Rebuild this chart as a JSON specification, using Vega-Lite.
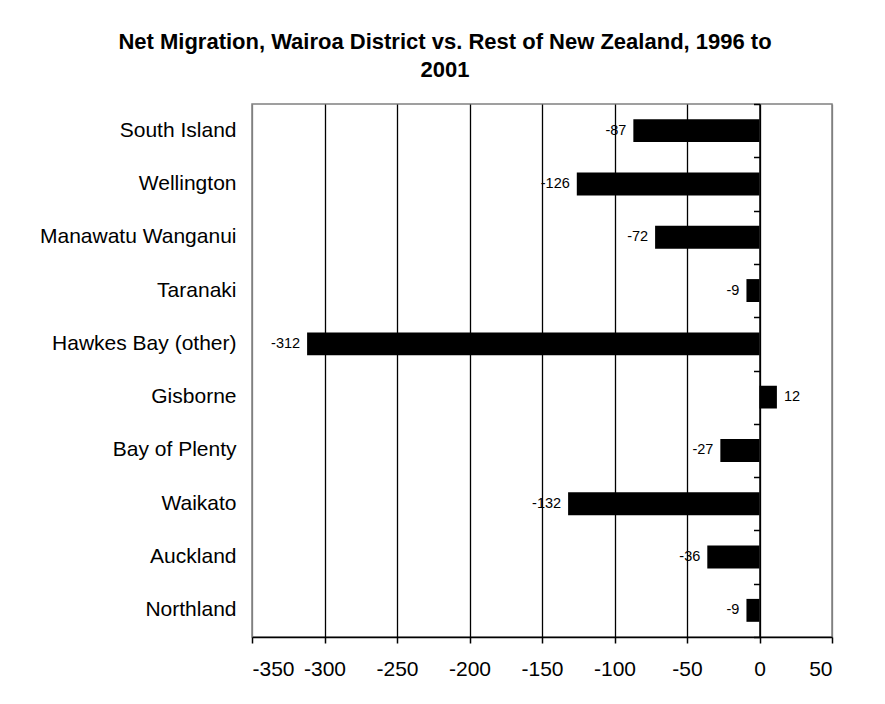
{
  "$schema": "https://vega.github.io/schema/vega-lite/v6.json",
  "autosize": {"type": "none"},
  "padding": {"left": 252, "top": 104, "right": 53, "bottom": 67},
  "width": 580,
  "height": 533,
  "background": "white",
  "config": {
    "font": "Liberation Sans",
    "view": {"stroke": "#808080", "strokeWidth": 1.5}
  },
  "title": {
    "text": ["Net Migration, Wairoa District vs. Rest of New Zealand, 1996 to", "2001"],
    "font": "Liberation Sans",
    "fontSize": 22,
    "fontWeight": "bold",
    "color": "black",
    "anchor": "middle",
    "frame": "group",
    "dx": -97,
    "lineHeight": 28,
    "offset": 21
  },
  "data": {
    "values": [
      {"region": "South Island", "value": -87},
      {"region": "Wellington", "value": -126},
      {"region": "Manawatu Wanganui", "value": -72},
      {"region": "Taranaki", "value": -9},
      {"region": "Hawkes Bay (other)", "value": -312},
      {"region": "Gisborne", "value": 12},
      {"region": "Bay of Plenty", "value": -27},
      {"region": "Waikato", "value": -132},
      {"region": "Auckland", "value": -36},
      {"region": "Northland", "value": -9}
    ]
  },
  "layer": [
    {
      "mark": {"type": "bar", "color": "black", "height": {"band": 0.43}},
      "encoding": {
        "x": {
          "field": "value",
          "type": "quantitative",
          "scale": {"domain": [-350, 50], "nice": false, "zero": false},
          "axis": {
            "title": null,
            "values": [-350, -300, -250, -200, -150, -100, -50, 0, 50],
            "labelExpr": "'' + datum.value",
            "grid": true,
            "gridColor": {"condition": {"test": "datum.value <= -350 || datum.value >= 50", "value": "#808080"}, "value": "black"},
            "gridOpacity": 1,
            "gridWidth": 1.3,
            "domainColor": "black",
            "domainWidth": 1.5,
            "tickColor": "black",
            "tickWidth": 1.5,
            "tickSize": 6,
            "labelFont": "Liberation Sans",
            "labelFontSize": 21,
            "labelColor": "black",
            "labelPadding": 15
          }
        },
        "y": {
          "field": "region",
          "type": "nominal",
          "sort": null,
          "scale": {"paddingInner": 0, "paddingOuter": 0},
          "axis": {
            "title": null,
            "orient": "left",
            "domain": false,
            "ticks": false,
            "labelFont": "Liberation Sans",
            "labelFontSize": 21,
            "labelColor": "black",
            "labelPadding": 16,
            "labelLimit": 400
          }
        }
      }
    },
    {
      "transform": [{"filter": "datum.value < 0"}],
      "mark": {"type": "text", "align": "right", "baseline": "middle", "dx": -7, "fontSize": 14.5, "color": "black", "font": "Liberation Sans"},
      "encoding": {
        "x": {"field": "value", "type": "quantitative"},
        "y": {"field": "region", "type": "nominal", "sort": null, "axis": null},
        "text": {"field": "value", "type": "nominal"}
      }
    },
    {
      "transform": [{"filter": "datum.value > 0"}],
      "mark": {"type": "text", "align": "left", "baseline": "middle", "dx": 7, "fontSize": 14.5, "color": "black", "font": "Liberation Sans"},
      "encoding": {
        "x": {"field": "value", "type": "quantitative"},
        "y": {"field": "region", "type": "nominal", "sort": null, "axis": null},
        "text": {"field": "value", "type": "nominal"}
      }
    },
    {
      "mark": {"type": "rule", "opacity": 0},
      "encoding": {
        "x": {"datum": 0},
        "y": {
          "field": "region",
          "type": "nominal",
          "sort": null,
          "axis": {
            "title": null,
            "orient": "right",
            "offset": -72.5,
            "labels": false,
            "domain": true,
            "domainColor": "black",
            "domainWidth": 1.5,
            "ticks": true,
            "tickBand": "extent",
            "tickColor": "black",
            "tickWidth": 1.5,
            "tickSize": -6
          }
        }
      }
    }
  ],
  "resolve": {"axis": {"y": "independent"}}
}
